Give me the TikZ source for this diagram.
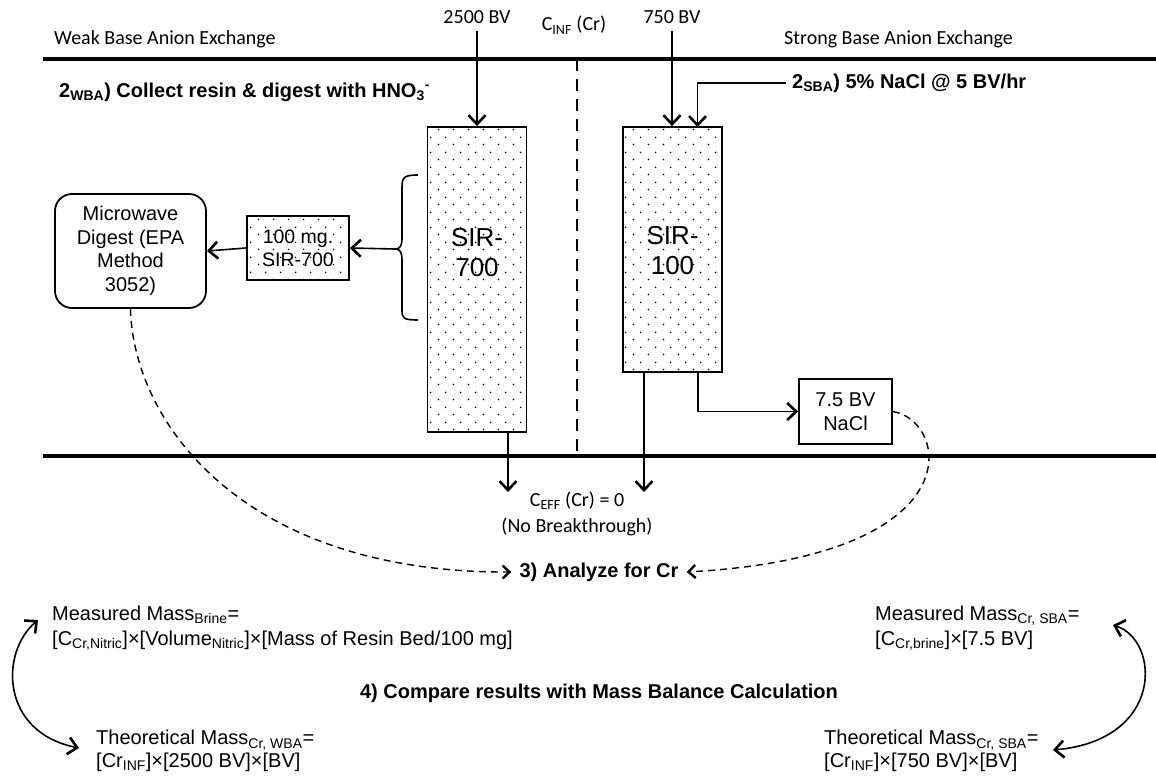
\documentclass[tikz,border=0pt]{standalone}
\usepackage{fontspec}
\setmainfont{Liberation Sans}
\newfontfamily\calib{Carlito}
\usetikzlibrary{arrows.meta,patterns.meta}
\tikzdeclarepattern{
  name=resindots, type=uncolored,
  bottom left={(0pt,0pt)}, top right={(15pt,15pt)},
  tile size={(15pt,15pt)},
  code={\pgfpathcircle{\pgfpoint{3.75pt}{3.75pt}}{0.9pt}\pgfpathcircle{\pgfpoint{11.25pt}{11.25pt}}{0.9pt}\pgfusepath{fill}}
}
\tikzset{
  cal/.style={font=\calib\fontsize{20}{26}\selectfont, inner sep=2pt},
  ari/.style={font=\fontsize{20}{23.5}\selectfont, inner sep=0pt},
  sirtxt/.style={font=\fontsize{26}{30}\selectfont, align=center, inner sep=0pt},
  bld/.style={font=\bfseries\fontsize{20}{24}\selectfont, inner sep=0pt},
  heavy/.style={line width=4pt},
  midline/.style={line width=1.6pt, dash pattern=on 12pt off 8pt},
  flow/.style={line width=2.6pt, -{Straight Barb[length=9pt,width=17pt]}},
  thinflow/.style={line width=1.6pt, -{Straight Barb[length=9pt,width=17pt,line width=2.6pt]}},
  col/.style={draw, line width=1.8pt, pattern=resindots, inner sep=0pt},
  box/.style={draw, line width=1.8pt, align=center, inner sep=0pt},
  dashconn/.style={line width=1.4pt, dash pattern=on 7pt off 5pt, -{Straight Barb[length=7pt,width=13pt,line width=2.4pt]}},
  dbl/.style={line width=1.6pt, {Straight Barb[length=9pt,width=17pt,line width=2.6pt]}-{Straight Barb[length=9pt,width=17pt,line width=2.6pt]}},
}
\begin{document}
\begin{tikzpicture}[x=1pt,y=-1pt]
\useasboundingbox (0,0) rectangle (1156,778);

% header texts
\node[cal, anchor=base west] (wba) at (52,45) {Weak Base Anion Exchange};
\node[cal, anchor=base west] (sba) at (782,45) {Strong Base Anion Exchange};
\node[cal, anchor=base, inner ysep=7pt] (in700) at (477,24) {2500 BV};
\node[cal, anchor=base] (cinf) at (574,31) {C\textsubscript{INF} (Cr)};
\node[cal, anchor=base, inner ysep=7pt] (in100) at (672,24) {750 BV};

% main lines
\coordinate (tl0) at (43,59);
\coordinate (tl1) at (1156,59);
\coordinate (bl0) at (43,456);
\coordinate (bl1) at (1156,456);
\coordinate (ml0) at (577,59);
\coordinate (ml1) at (577,456);
\draw[heavy] (tl0) -- (tl1);
\draw[heavy] (bl0) -- (bl1);
\draw[midline] (ml0) -- (ml1);

% step 2 labels
\node[bld, anchor=west] (step2w) at (59,92) {2\textsubscript{WBA}) Collect resin \& digest with HNO\textsubscript{3}\textsuperscript{-}};
\node[bld, anchor=west] (step2s) at (792,83) {2\textsubscript{SBA}) 5\% NaCl @ 5 BV/hr};

% columns
\node[col, minimum width=99pt, minimum height=305pt] (sir700) at (477,279.5) {};
\node[sirtxt] (sir700t) at (477,253) {SIR-\\700};
\node[col, minimum width=99pt, minimum height=245pt] (sir100) at (672.5,249.5) {};
\node[sirtxt] (sir100t) at (672.5,251) {SIR-\\100};

% inflow arrows
\coordinate (s2in) at (697.5,127);
\coordinate (s2start) at (786,83);
\draw[flow] (in700.south) -- (sir700.north);
\draw[flow] (in100.south) -- (in100.south |- sir100.north);
\draw[thinflow] (s2start) -| (s2in);

% left side boxes
\node[col, minimum width=102pt, minimum height=64pt, align=center, font=\fontsize{19.5}{23}\selectfont] (mg) at (298,248) {100 mg.\\SIR-700};
\node[box, rounded corners=17pt, minimum width=151pt, minimum height=114pt, font=\fontsize{20}{23.5}\selectfont] (mw) at (130.5,251) {Microwave\\Digest (EPA\\Method\\3052)};

% brace
\coordinate (bt) at (395,249);
\draw[line width=1.6pt] (418,175) .. controls (403,175) and (402,178) .. (402,188) -- (402,238)
  .. controls (402,246) and (400,249) .. (bt) .. controls (400,249) and (402,252) .. (402,260)
  -- (402,310) .. controls (402,318) and (403,320) .. (418,320);
\draw[thinflow] (bt) -- (mg.east);
\draw[thinflow] (mg.west) -- (mw.east);

% outflows
\coordinate (o700) at (508,492);
\coordinate (o100) at (644,492);
\coordinate (x698) at (698,0);
\draw[flow] (sir700.south -| o700) -- (o700);
\draw[flow] (sir100.south -| o100) -- (o100);
\node[box, minimum width=93pt, minimum height=65pt, font=\fontsize{20}{23.5}\selectfont] (nacl) at (845.5,411.5) {7.5 BV\\NaCl};
\draw[thinflow] (sir100.south -| x698) |- (nacl.west);

\node[cal, align=center] (ceff) at (577,514) {C\textsubscript{EFF} (Cr) = 0\\(No Breakthrough)};

% step 3
\node[bld] (ana) at (599,572) {3) Analyze for Cr};
\draw[dashconn] (mw.south) .. controls (133,420) and (240,573) .. ([xshift=-8pt]ana.west);
\draw[dashconn] (nacl.east) .. controls (948,420) and (978,556) .. ([xshift=8pt]ana.east);

% step 4
\node[bld] (cmp) at (599,693) {4) Compare results with Mass Balance Calculation};

\node[ari, anchor=west, align=left, font=\fontsize{20}{24.5}\selectfont] (mL) at (52,628) {Measured Mass\textsubscript{Brine}=\\{}[C\textsubscript{Cr,Nitric}]×[Volume\textsubscript{Nitric}]×[Mass of Resin Bed/100 mg]};
\node[ari, anchor=west, align=left, font=\fontsize{20}{22.5}\selectfont] (tL) at (96,751) {Theoretical Mass\textsubscript{Cr, WBA}=\\{}[Cr\textsubscript{INF}]×[2500 BV]×[BV]};
\node[ari, anchor=west, align=left, font=\fontsize{20}{24.5}\selectfont] (mR) at (875,628) {Measured Mass\textsubscript{Cr, SBA}=\\{}[C\textsubscript{Cr,brine}]×[7.5 BV]};
\node[ari, anchor=west, align=left, font=\fontsize{20}{22.5}\selectfont] (tR) at (824,751) {Theoretical Mass\textsubscript{Cr, SBA}=\\{}[Cr\textsubscript{INF}]×[750 BV]×[BV]};

\coordinate (la1) at (38,620);
\coordinate (la2) at (79,748);
\coordinate (ra1) at (1113,625);
\coordinate (ra2) at (1053,750);
\draw[dbl] (la1) .. controls (0,652) and (0,732) .. (la2);
\draw[dbl] (ra1) .. controls (1160,640) and (1165,740) .. (ra2);
\end{tikzpicture}
\end{document}
